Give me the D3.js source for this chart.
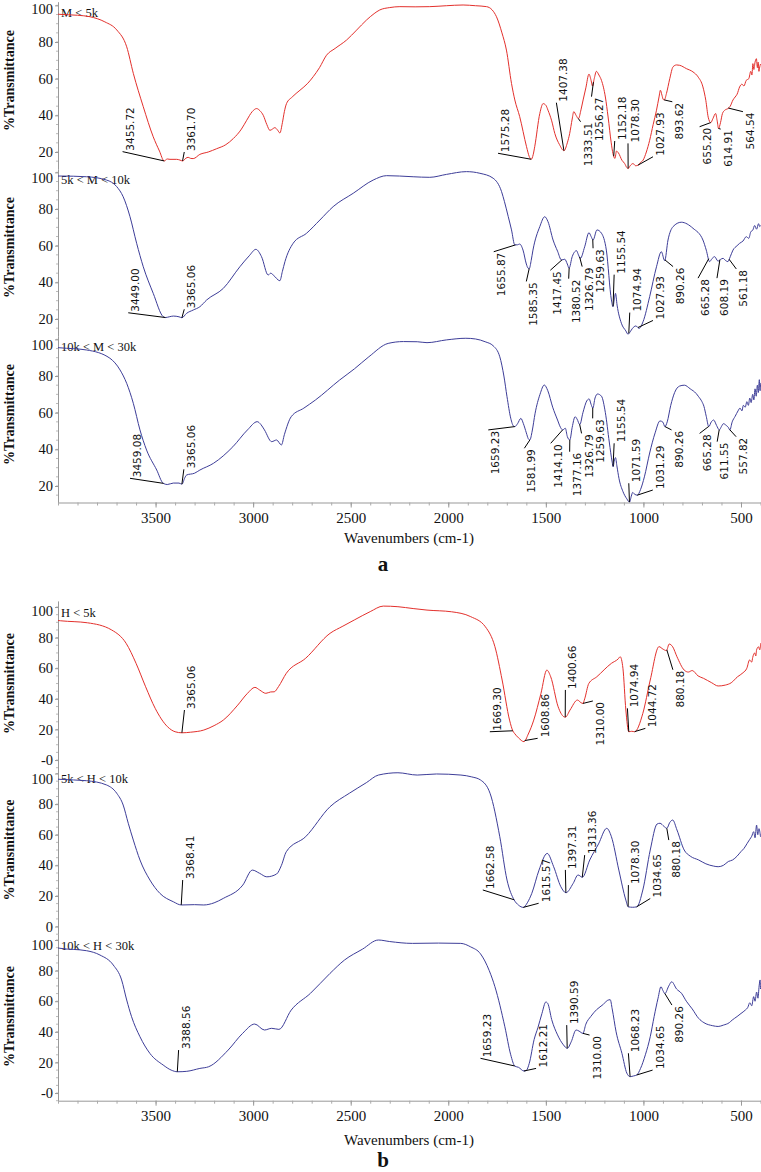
<!DOCTYPE html>
<html><head><meta charset="utf-8">
<script src="https://cdn.jsdelivr.net/npm/d3@7"></script>
<style>body{margin:0;background:#fff}svg{display:block}</style>
</head><body>
<svg id="chart" width="761" height="1172"></svg>
<script>
// ---------- DATA ----------
const wnTicks = [3500, 3000, 2500, 2000, 1500, 1000, 500];
const yTickVals = [0, 20, 40, 60, 80, 100];
const yTickValsA = [20, 40, 60, 80, 100];
const tickLabelsA = ['20', '40', '60', '80', '100'];
const tickLabelsB1 = ['-0', '20', '40', '60', '80', '100'];
const tickLabelsB2 = ['0', '20', '40', '60', '80', '100'];
const tickLabelsB3 = ['-0', '20', '40', '60', '80', '100'];
const namesA = ['M < 5k', '5k < M < 10k', '10k < M < 30k'];
const namesB = ['H < 5k', '5k < H < 10k', '10k < H < 30k'];

const specA1 = [[4000,95.2],[3990,95.1],[3900,94.6],[3836,93.8],[3760,91.0],[3699,86.6],[3648,77.4],[3614,62.9],[3563,44.7],[3512,28.3],[3480,20.5],[3456,15.1],[3440,16.2],[3426,16.0],[3392,16.0],[3375,15.6],[3361,15.1],[3345,16.6],[3333,17.1],[3320,16.5],[3307,16.4],[3273,18.7],[3230,20.0],[3187,21.8],[3140,24.0],[3102,27.3],[3060,32.5],[3033,37.3],[3005,42.0],[2982,43.7],[2965,42.5],[2948,40.0],[2930,35.0],[2914,31.8],[2900,32.6],[2889,33.3],[2875,32.0],[2863,30.4],[2850,36.0],[2840,42.0],[2829,46.4],[2800,50.0],[2760,53.7],[2720,57.5],[2692,61.1],[2660,66.0],[2624,72.8],[2580,76.5],[2521,81.1],[2470,86.5],[2419,92.0],[2380,95.5],[2351,97.5],[2300,98.8],[2248,99.3],[2170,99.2],[2095,99.3],[2010,99.8],[1924,100.2],[1860,99.8],[1804,99.3],[1775,97.5],[1753,93.8],[1725,85.0],[1702,75.6],[1676,57.4],[1659,48.4],[1634,39.3],[1599,22.9],[1585,17.5],[1575,16.0],[1565,18.5],[1557,22.9],[1531,41.0],[1514,46.4],[1500,45.5],[1489,42.8],[1470,37.0],[1454,30.1],[1430,24.0],[1407,20.7],[1390,25.0],[1378,30.0],[1365,38.0],[1357,42.0],[1345,40.0],[1333,38.2],[1320,43.0],[1309,48.4],[1295,55.0],[1279,62.5],[1268,59.0],[1261,56.0],[1252,60.0],[1241,64.0],[1228,62.0],[1215,59.1],[1195,50.0],[1181,39.1],[1165,25.0],[1156,19.1],[1150,17.0],[1146,16.5],[1138,20.5],[1128,19.5],[1110,15.5],[1096,13.7],[1085,11.5],[1078,11.0],[1068,12.5],[1053,13.7],[1040,12.5],[1028,12.8],[1015,14.3],[1002,15.5],[985,20.0],[968,26.4],[950,35.0],[933,42.8],[920,50.0],[913,53.7],[905,51.0],[898,48.6],[893,48.4],[882,51.9],[865,60.0],[848,66.5],[830,67.5],[814,67.3],[780,65.5],[746,63.7],[720,61.0],[695,55.5],[680,48.0],[668,39.0],[655,36.0],[644,38.2],[630,41.0],[622,37.0],[615,32.8],[605,36.0],[595,41.0],[583,42.8],[567,43.7],[555,45.0],[541,48.4],[530,50.0],[520,51.5],[507,55.5],[495,57.0],[485,56.0],[473,59.1],[460,60.0],[450,64.0],[444,62.0],[439,68.2],[434,65.0],[428,69.0],[421,70.9],[416,66.0],[412,69.0],[408,64.0],[404,66.4],[400,68.0]];

const specA2 = [[4000,98.0],[3990,98.0],[3853,97.6],[3751,95.8],[3699,92.2],[3666,86.7],[3631,75.8],[3597,61.3],[3563,48.5],[3512,34.0],[3461,21.3],[3449,20.8],[3430,21.2],[3409,21.6],[3380,21.2],[3365,20.7],[3341,23.1],[3307,24.9],[3273,26.7],[3238,30.4],[3153,36.7],[3068,48.5],[3020,54.5],[2986,58.0],[2957,54.0],[2923,44.0],[2910,45.0],[2897,44.0],[2863,40.9],[2850,46.0],[2837,51.3],[2795,61.3],[2726,66.8],[2658,74.0],[2590,81.3],[2487,88.6],[2385,95.8],[2316,98.2],[2250,98.0],[2180,97.6],[2095,97.3],[2009,98.9],[1907,100.4],[1838,99.5],[1770,96.8],[1727,89.5],[1712,84.0],[1693,76.0],[1676,68.6],[1659,60.4],[1645,60.5],[1634,60.9],[1617,57.6],[1600,50.0],[1591,47.7],[1585,47.5],[1575,52.0],[1566,57.6],[1531,70.4],[1506,75.8],[1489,73.1],[1463,63.1],[1440,57.0],[1420,52.2],[1403,52.6],[1390,50.0],[1381,47.7],[1365,54.0],[1352,56.7],[1343,57.3],[1333,55.0],[1323,53.1],[1301,59.4],[1279,67.1],[1268,65.0],[1258,63.1],[1238,68.6],[1215,66.8],[1190,57.6],[1164,30.4],[1156,26.7],[1150,30.0],[1143,34.0],[1135,27.6],[1113,17.7],[1090,13.5],[1079,11.7],[1068,13.0],[1056,14.9],[1039,16.2],[1022,14.9],[1002,18.5],[968,32.2],[933,48.5],[908,56.7],[891,51.8],[874,63.1],[848,70.4],[806,72.8],[746,69.5],[695,63.1],[678,57.6],[661,51.3],[648,53.0],[635,54.0],[618,51.6],[605,52.5],[592,53.1],[580,52.0],[567,51.3],[555,54.0],[541,57.6],[520,60.0],[507,61.3],[490,62.5],[473,64.9],[460,64.0],[450,67.5],[439,68.6],[430,71.0],[420,69.0],[410,72.0],[404,70.4],[400,71.0]];

const specA3 = [[4000,95.5],[3990,95.4],[3853,94.2],[3734,89.7],[3682,83.3],[3648,76.0],[3614,65.1],[3580,50.6],[3546,39.6],[3494,28.7],[3461,21.5],[3440,20.8],[3409,21.6],[3380,21.6],[3365,21.0],[3350,24.5],[3341,26.0],[3300,27.0],[3273,28.7],[3203,32.4],[3104,41.4],[3029,50.6],[2979,55.1],[2960,53.5],[2942,50.6],[2905,44.2],[2880,45.1],[2855,42.4],[2840,48.0],[2805,57.8],[2740,62.5],[2681,66.9],[2557,77.8],[2480,84.0],[2407,90.5],[2308,97.8],[2230,98.8],[2159,98.7],[2109,98.2],[2010,99.7],[1910,100.6],[1860,100.2],[1811,98.7],[1770,96.5],[1736,90.5],[1715,80.0],[1699,68.7],[1680,57.0],[1665,52.6],[1659,52.4],[1645,54.0],[1628,56.9],[1615,54.0],[1600,49.0],[1590,45.8],[1582,45.1],[1570,50.0],[1555,59.7],[1530,70.0],[1508,75.1],[1490,72.0],[1465,63.0],[1440,56.0],[1425,52.0],[1414,50.6],[1400,51.5],[1390,47.0],[1377,45.1],[1365,52.0],[1350,57.8],[1340,56.5],[1326,53.5],[1310,60.0],[1290,66.5],[1278,67.5],[1268,64.5],[1259,62.5],[1248,68.0],[1235,70.2],[1215,69.0],[1195,60.0],[1175,44.0],[1160,33.0],[1155,30.5],[1150,33.5],[1143,35.5],[1136,31.0],[1125,24.0],[1105,17.0],[1085,13.0],[1071,11.2],[1062,14.5],[1055,16.5],[1045,15.5],[1031,15.0],[1015,18.0],[995,25.0],[968,38.0],[940,49.0],[915,55.5],[900,54.8],[890,52.4],[878,55.0],[860,64.0],[840,71.0],[815,74.5],[790,75.0],[760,73.0],[730,70.5],[717,68.7],[700,66.0],[690,63.5],[678,58.0],[665,52.4],[652,55.0],[640,56.0],[625,53.0],[611,50.6],[600,52.5],[590,54.0],[575,53.0],[565,52.0],[557,50.6],[545,55.0],[530,58.0],[515,61.0],[505,62.5],[495,61.0],[488,64.0],[478,63.0],[470,66.0],[462,64.0],[455,68.0],[448,65.5],[440,70.0],[434,67.0],[428,73.0],[422,69.0],[416,75.0],[411,71.0],[406,78.0],[402,72.0],[400,76.0]];

const specB1 = [[4000,91.2],[3986,91.0],[3849,89.7],[3725,85.0],[3651,76.3],[3600,63.2],[3551,47.9],[3502,33.8],[3439,21.8],[3400,18.5],[3365,17.8],[3320,18.2],[3253,19.6],[3200,22.5],[3153,26.1],[3079,35.9],[3029,43.6],[2991,47.5],[2967,45.8],[2935,43.6],[2910,44.5],[2892,44.6],[2870,48.0],[2830,56.7],[2731,66.5],[2606,82.8],[2540,87.5],[2482,91.5],[2400,97.0],[2333,100.6],[2258,100.2],[2180,99.0],[2109,98.0],[1984,96.9],[1885,93.7],[1810,87.1],[1761,74.1],[1724,52.3],[1686,26.1],[1669,19.0],[1661,17.5],[1640,14.5],[1612,12.0],[1590,17.0],[1562,26.1],[1525,43.6],[1495,58.8],[1475,54.4],[1437,34.8],[1408,28.3],[1400,28.0],[1376,32.7],[1338,39.2],[1320,37.5],[1310,37.0],[1301,40.0],[1280,50.0],[1239,54.4],[1164,63.2],[1130,66.0],[1119,67.5],[1105,60.0],[1090,32.7],[1075,18.5],[1060,18.8],[1045,18.5],[1003,30.5],[965,52.3],[920,74.1],[900,72.5],[882,71.5],[868,75.8],[850,74.0],[828,67.5],[791,58.8],[770,57.5],[750,58.5],[720,55.0],[692,53.4],[650,50.5],[617,48.4],[580,49.0],[550,50.5],[518,54.4],[490,57.0],[470,60.0],[456,65.4],[445,64.0],[440,67.0],[430,70.0],[424,68.0],[420,72.0],[410,74.0],[404,72.0],[399,76.3]];

const specB2 = [[4000,96.3],[3990,96.2],[3853,95.3],[3751,92.5],[3699,87.1],[3666,79.4],[3640,67.5],[3614,56.5],[3580,43.5],[3529,30.4],[3478,21.7],[3409,16.2],[3368,14.1],[3300,14.3],[3253,14.1],[3200,15.5],[3153,18.4],[3053,27.1],[3004,36.9],[2967,34.8],[2930,32.5],[2880,34.3],[2855,40.0],[2830,48.9],[2731,58.7],[2606,78.3],[2507,87.1],[2420,94.0],[2358,99.0],[2258,100.5],[2159,99.0],[2060,99.7],[1935,99.0],[1880,97.8],[1835,95.8],[1786,87.1],[1736,58.7],[1699,30.4],[1662,17.3],[1640,14.0],[1615,12.5],[1595,15.5],[1572,21.7],[1535,36.9],[1493,47.8],[1460,39.1],[1423,26.0],[1397,22.1],[1360,28.2],[1335,33.7],[1313,32.2],[1275,43.5],[1230,54.0],[1188,64.2],[1164,58.7],[1126,36.9],[1090,17.3],[1078,12.9],[1055,12.6],[1034,12.9],[1003,23.9],[965,50.0],[930,67.0],[915,67.5],[895,65.5],[880,64.2],[865,68.0],[850,69.6],[828,63.1],[791,50.0],[760,46.0],[717,43.5],[680,41.0],[640,39.5],[617,39.1],[590,40.0],[565,42.5],[543,43.5],[520,46.0],[500,49.0],[485,51.0],[468,54.4],[455,57.0],[445,59.0],[435,62.0],[428,58.0],[420,66.3],[414,60.0],[408,64.0],[400,58.7]];

const specB3 = [[4000,94.8],[3990,94.6],[3853,93.0],[3785,90.2],[3717,83.7],[3674,73.9],[3648,60.8],[3623,49.9],[3580,36.8],[3529,25.9],[3461,18.3],[3420,15.0],[3388,13.9],[3340,14.2],[3273,16.1],[3228,17.2],[3128,28.1],[3054,39.0],[2992,45.1],[2942,41.2],[2905,42.3],[2868,41.6],[2805,54.2],[2706,65.2],[2606,78.2],[2532,86.9],[2440,94.0],[2358,100.0],[2300,99.0],[2184,97.8],[2050,98.0],[1936,97.8],[1885,95.5],[1835,91.0],[1790,80.0],[1761,69.5],[1710,43.3],[1680,25.0],[1659,17.6],[1640,16.8],[1612,14.4],[1600,14.8],[1585,19.4],[1560,35.0],[1540,43.0],[1520,52.0],[1500,59.5],[1490,58.5],[1470,48.0],[1440,38.0],[1410,31.5],[1390,29.2],[1370,33.5],[1345,41.2],[1330,40.5],[1310,39.0],[1295,45.0],[1270,50.0],[1240,54.5],[1205,58.0],[1185,60.5],[1170,61.0],[1160,55.0],[1140,40.0],[1110,25.9],[1085,13.0],[1068,10.7],[1050,11.2],[1034,11.8],[1015,16.0],[990,25.0],[965,36.8],[945,50.0],[925,62.0],[910,69.5],[900,67.0],[890,65.0],[870,70.0],[855,72.7],[830,68.0],[805,65.2],[780,60.0],[750,55.0],[717,48.8],[690,46.0],[645,44.0],[617,43.5],[590,44.4],[560,46.0],[545,47.7],[520,50.0],[500,52.0],[478,54.2],[465,56.0],[455,59.0],[445,57.0],[435,63.0],[428,60.0],[420,66.0],[413,62.0],[407,70.0],[402,73.9],[400,68.0]];

// peak annotations: [label, peak wavenumber, leader-end wavenumber, leader-end %T, direction]
const peaksA1 = [['3455.72',3455.72,3669,20.2,'up'],['3361.70',3361.70,3353,20.0,'up'],['1575.28',1575.28,1745,19.3,'up'],['1407.38',1407.38,1446,46.9,'up'],['1333.51',1333.51,1322,36.5,'down'],['1256.27',1256.27,1266,50.2,'down'],['1152.18',1152.18,1147,26.0,'up'],['1078.30',1078.30,1079,24.7,'up'],['1027.93',1027.93,951,17.4,'up'],['893.62',893.62,852,47.4,'down'],['655.20',655.20,712,33.8,'down'],['614.91',614.91,604,32.5,'down'],['564.54',564.54,490,42.0,'down']];
const peaksA2 = [['3449.00',3449.00,3640,23.4,'up'],['3365.06',3365.06,3353,25.3,'up'],['1655.87',1655.87,1767,56.7,'down'],['1585.35',1585.35,1600,40.5,'down'],['1417.45',1417.45,1477,46.6,'down'],['1380.52',1380.52,1383,42.0,'down'],['1326.79',1326.79,1314,48.6,'down'],['1259.63',1259.63,1258,58.6,'down'],['1155.54',1155.54,1150,44.2,'up'],['1074.94',1074.94,1070,23.5,'up'],['1027.93',1027.93,951,19.2,'up'],['890.26',890.26,848,48.6,'down'],['665.28',665.28,720,42.3,'down'],['608.19',608.19,623,42.3,'down'],['561.18',561.18,524,47.3,'down']];
const peaksA3 = [['3459.08',3459.08,3631,24.2,'up'],['3365.06',3365.06,3355,29.1,'up'],['1659.23',1659.23,1795,50.6,'down'],['1581.99',1581.99,1610,40.6,'down'],['1414.10',1414.10,1475,43.3,'down'],['1377.16',1377.16,1378,38.7,'down'],['1326.79',1326.79,1317,48.7,'down'],['1259.63',1259.63,1260,56.9,'down'],['1155.54',1155.54,1150,43.3,'up'],['1071.59',1071.59,1075,21.5,'up'],['1031.29',1031.29,952,17.8,'up'],['890.26',890.26,856,50.6,'down'],['665.28',665.28,712,48.7,'down'],['611.55',611.55,622,44.2,'down'],['557.82',557.82,525,46.9,'down']];
const peaksB1 = [['3365.06',3365.06,3352,32.7,'up'],['1669.30',1669.30,1787,18.5,'up'],['1608.86',1608.86,1542,14.2,'up'],['1400.66',1400.66,1400,45.8,'up'],['1310.00',1310.00,1259,38.6,'down'],['1074.94',1074.94,1082,33.8,'up'],['1044.72',1044.72,990,20.7,'up'],['880.18',880.18,849,59.0,'down']];
const peaksB2 = [['3368.41',3368.41,3361,30.4,'up'],['1662.58',1662.58,1823,23.9,'up'],['1615.57',1615.57,1537,15.2,'up'],['1397.31',1397.31,1400,37.0,'up'],['1313.36',1313.36,1301,46.7,'up'],['1078.30',1078.30,1077,27.1,'up'],['1034.65',1034.65,965,18.3,'up'],['880.18',880.18,870,56.5,'down']];
const peaksB3 = [['3388.56',3388.56,3382,28.1,'up'],['1659.23',1659.23,1835,22.7,'up'],['1612.21',1612.21,1550,16.1,'up'],['1390.59',1390.59,1393,44.4,'up'],['1310.00',1310.00,1276,37.9,'down'],['1068.23',1068.23,1077,26.0,'up'],['1034.65',1034.65,953,15.0,'up'],['890.26',890.26,854,57.5,'down']];

// ---------- DRAWING ----------
const RED = '#e3302c', BLUE = '#3d3d98';
const SERIF = '"Liberation Serif","Times New Roman","DejaVu Serif",serif';
const svg = d3.select('#chart');
const x = d3.scaleLinear().domain([4000, 400]).range([58, 760.5]);

const figures = [
  { tops: [1.7, 168.7, 335.7], domain: [11, 102], h: 166.8,
    specs: [specA1, specA2, specA3], peaks: [peaksA1, peaksA2, peaksA3],
    names: namesA, colors: [RED, BLUE, BLUE], tickVals: yTickValsA,
    tickLabels: [tickLabelsA, tickLabelsA, tickLabelsA], transAt: 59,
    axisLabelDy: 40.5, letter: 'a', letterDy: 68 },
  { tops: [600.9, 767.4, 933.9], domain: [-5, 104], h: 166.8,
    specs: [specB1, specB2, specB3], peaks: [peaksB1, peaksB2, peaksB3],
    names: namesB, colors: [RED, BLUE, BLUE], tickVals: yTickVals,
    tickLabels: [tickLabelsB1, tickLabelsB2, tickLabelsB3], transAt: 50,
    axisLabelDy: 44.5, letter: 'b', letterDy: 66.5 }
];

function valueAt(data, wn) {
  for (let i = 0; i < data.length - 1; i++) {
    const a = data[i], b = data[i + 1];
    if (wn <= a[0] && wn >= b[0]) {
      const t = (a[0] - wn) / (a[0] - b[0]);
      return a[1] + t * (b[1] - a[1]);
    }
  }
  return data[data.length - 1][1];
}

figures.forEach(fig => {
  fig.tops.forEach((top, pi) => {
    const y = d3.scaleLinear().domain(fig.domain).range([top + fig.h, top]);
    const g = svg.append('g');

    // minor y ticks
    const minor = d3.range(Math.ceil(fig.domain[0] / 5) * 5, fig.domain[1], 5);
    g.append('g').selectAll('line').data(minor).join('line')
      .attr('x1', x(4000) - 2).attr('x2', x(4000))
      .attr('y1', d => y(d)).attr('y2', d => y(d))
      .attr('stroke', '#aaa').attr('stroke-width', 0.8);

    // y axis
    const labels = fig.tickLabels[pi];
    const ay = d3.axisLeft(y).tickValues(fig.tickVals)
      .tickFormat((d, i) => labels[i]).tickSize(3).tickSizeOuter(0).tickPadding(2);
    const ag = g.append('g').attr('transform', `translate(${x(4000)},0)`).call(ay);
    ag.select('.domain').attr('stroke', '#999').attr('stroke-width', 1);
    ag.selectAll('.tick line').attr('stroke', '#999');
    ag.selectAll('.tick text').attr('font-family', SERIF).attr('font-size', 14.5)
      .attr('fill', '#111')
      .attr('transform', d => d === 100 ? `translate(0,${pi > 0 ? 5 : 3.5})` : null);

    // %Transmittance
    g.append('text')
      .attr('transform', `translate(14,${y(fig.transAt)}) rotate(-90)`)
      .attr('text-anchor', 'middle').attr('font-family', SERIF)
      .attr('font-weight', 'bold').attr('font-size', 14).attr('fill', '#111')
      .text('%Transmittance');

    // panel name
    g.append('text').attr('x', x(4000) + 3).attr('y', y(93.5))
      .attr('font-family', SERIF).attr('font-size', 12.5).attr('fill', '#111')
      .text(fig.names[pi]);

    // spectrum
    const line = d3.line().x(d => x(d[0])).y(d => y(d[1])).curve(d3.curveMonotoneX);
    g.append('path').datum(fig.specs[pi]).attr('d', line)
      .attr('fill', 'none').attr('stroke', fig.colors[pi]).attr('stroke-width', 1);

    // peak annotations
    const data = fig.specs[pi];
    fig.peaks[pi].forEach(([label, pk, ew, et, dir]) => {
      const x0 = x(pk), y0 = y(valueAt(data, pk)), x1 = x(ew), y1 = y(et);
      g.append('line').attr('x1', x0).attr('y1', y0).attr('x2', x1).attr('y2', y1)
        .attr('stroke', '#000').attr('stroke-width', 1);
      g.append('text')
        .attr('transform', `translate(${x1 + 11},${dir === 'up' ? y1 - 1 : y1 + 1}) rotate(-90)`)
        .attr('text-anchor', dir === 'up' ? 'start' : 'end')
        .attr('font-family', '"DejaVu Sans",Verdana,sans-serif').attr('font-size', 10.5)
        .attr('fill', '#111').text(label);
    });

    // x axis on last panel
    if (pi === 2) {
      const axisY = top + fig.h;
      const minorX = d3.range(4000, 399, -100);
      g.append('g').attr('transform', `translate(0,${axisY})`)
        .call(d3.axisBottom(x).tickValues(minorX).tickSize(3).tickSizeOuter(0).tickFormat(''))
        .call(s => { s.select('.domain').attr('stroke', '#999'); s.selectAll('.tick line').attr('stroke', '#aaa'); });
      const xa = g.append('g').attr('transform', `translate(0,${axisY})`)
        .call(d3.axisBottom(x).tickValues(wnTicks).tickSize(5).tickSizeOuter(0).tickFormat(d3.format('d')));
      xa.select('.domain').remove();
      xa.selectAll('.tick line').attr('stroke', '#999');
      xa.selectAll('.tick text').attr('y', 20.5).attr('dy', 0)
        .attr('font-family', SERIF).attr('font-size', 15).attr('fill', '#111');
      g.append('text').attr('x', 409).attr('y', axisY + fig.axisLabelDy)
        .attr('text-anchor', 'middle').attr('font-family', SERIF).attr('font-size', 15)
        .attr('fill', '#111').text('Wavenumbers (cm-1)');
      g.append('text').attr('x', 383).attr('y', axisY + fig.letterDy)
        .attr('text-anchor', 'middle').attr('font-family', SERIF).attr('font-weight', 'bold')
        .attr('font-size', 21).attr('fill', '#111').text(fig.letter);
    }
  });
});
</script>
</body></html>
